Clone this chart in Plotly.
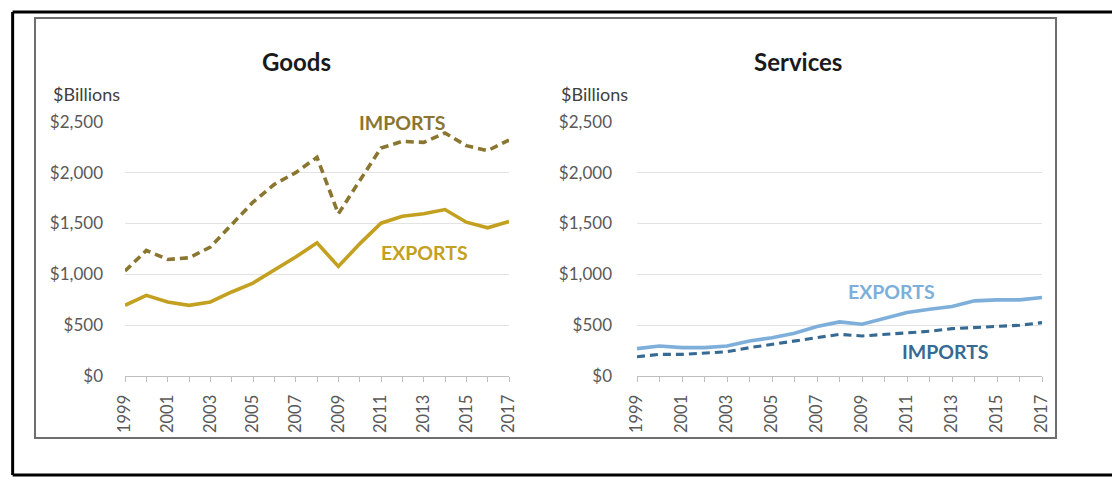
import plotly.graph_objects as go

years = list(range(1999, 2018))
goods_exports = [696, 794, 729, 696, 729, 827, 915, 1039, 1170, 1310, 1078, 1300, 1503, 1572, 1595, 1637, 1513, 1458, 1520]
goods_imports = [1033, 1235, 1147, 1163, 1268, 1490, 1710, 1885, 2000, 2150, 1595, 1921, 2242, 2307, 2297, 2389, 2265, 2216, 2320]
services_exports = [270, 296, 280, 280, 296, 345, 378, 421, 487, 533, 510, 566, 625, 658, 684, 740, 750, 750, 773]
services_imports = [191, 214, 214, 224, 240, 280, 312, 345, 378, 411, 395, 411, 428, 441, 467, 477, 487, 500, 526]

y_tickvals = [0, 500, 1000, 1500, 2000, 2500]
y_ticktext = ["$0", "$500", "$1,000", "$1,500", "$2,000", "$2,500"]
x_tickvals = [1999, 2001, 2003, 2005, 2007, 2009, 2011, 2013, 2015, 2017]

W, H = 1112, 486
FONT = "Lato"
C_GOODS_EXP = "#C4A021"
C_GOODS_IMP = "#8A7630"
C_SERV_EXP = "#7DAFDA"
C_SERV_IMP = "#366A93"

# the photographed page is shown with a small padding; positions are given in
# target-picture pixels and converted to page/paper fractions here
PAD, SX, SY = 10.0, 0.982, 0.959

def fx(X):
    return min(max((X - PAD) / SX / W, 0.0), 1.0)

def fy(Y):
    return min(max(1 - (Y - PAD) / SY / H, 0.0), 1.0)

fig = go.Figure()
fig.add_trace(go.Scatter(x=years, y=goods_imports, mode="lines", xaxis="x", yaxis="y",
                         line=dict(color=C_GOODS_IMP, width=3.6, dash="8px,5px"), showlegend=False))
fig.add_trace(go.Scatter(x=years, y=goods_exports, mode="lines", xaxis="x", yaxis="y",
                         line=dict(color=C_GOODS_EXP, width=3.6), showlegend=False))
fig.add_trace(go.Scatter(x=years, y=services_imports, mode="lines", xaxis="x2", yaxis="y2",
                         line=dict(color=C_SERV_IMP, width=3.1, dash="8px,5px"), showlegend=False))
fig.add_trace(go.Scatter(x=years, y=services_exports, mode="lines", xaxis="x2", yaxis="y2",
                         line=dict(color=C_SERV_EXP, width=3.6), showlegend=False))

def xaxis(domain, anchor):
    return dict(domain=domain, anchor=anchor, range=[1999, 2017], tickmode="array",
                tickvals=x_tickvals, ticktext=[str(v) for v in x_tickvals], tickangle=-90,
                showgrid=False, zeroline=False, showline=True, linecolor="#BFBFBF", linewidth=1,
                ticks="outside", ticklen=5, tickcolor="#BFBFBF", ticklabelstandoff=6,
                minor=dict(dtick=1, ticks="outside", ticklen=5, tickcolor="#BFBFBF", showgrid=False),
                tickfont=dict(family=FONT, size=16.5, color="#595959"))

def yaxis(domain, anchor, standoff):
    return dict(domain=domain, anchor=anchor, range=[0, 2500], tickmode="array",
                tickvals=y_tickvals, ticktext=y_ticktext, showgrid=True, gridcolor="#E3E3E3",
                gridwidth=1, zeroline=False, showline=False, ticks="", ticklabelstandoff=standoff,
                tickfont=dict(family=FONT, size=17, color="#595959"))

ydom = [fy(376), fy(121)]
fig.update_layout(
    width=W, height=H, margin=dict(l=0, r=0, t=0, b=0),
    paper_bgcolor="white", plot_bgcolor="white",
    xaxis=xaxis([fx(124), fx(508)], "y"),
    yaxis=yaxis(ydom, "x", 21),
    xaxis2=xaxis([fx(636), fx(1041)], "y2"),
    yaxis2=yaxis(ydom, "x2", 24),
)

shapes = [
    # outer frame (as close to the picture edges as the page allows)
    dict(type="line", xref="paper", yref="paper", x0=0.0015, x1=1.05, y0=0.998, y1=0.998,
         line=dict(color="black", width=3)),
    dict(type="line", xref="paper", yref="paper", x0=0.0015, x1=0.0015, y0=0.002, y1=0.998,
         line=dict(color="black", width=3)),
    dict(type="line", xref="paper", yref="paper", x0=0.0015, x1=1.05, y0=0.002, y1=0.002,
         line=dict(color="black", width=3)),
    # inner chart border
    dict(type="rect", xref="paper", yref="paper", x0=fx(34), x1=fx(1055), y0=fy(438), y1=fy(17),
         line=dict(color="#6E6E6E", width=2)),
]
fig.update_layout(shapes=shapes)

ann = []
ann.append(dict(text="<b>Goods</b>", xref="paper", yref="paper", x=fx(295), y=fy(61),
                xanchor="center", yanchor="middle", showarrow=False,
                font=dict(family=FONT, size=24, color="#1A1A1A")))
ann.append(dict(text="<b>Services</b>", xref="paper", yref="paper", x=fx(797), y=fy(61),
                xanchor="center", yanchor="middle", showarrow=False,
                font=dict(family=FONT, size=24, color="#1A1A1A")))
for xl in (50, 558):
    ann.append(dict(text="$Billions", xref="paper", yref="paper", x=fx(xl), y=fy(93),
                    xanchor="left", yanchor="middle", showarrow=False,
                    font=dict(family=FONT, size=18, color="#404040")))
ann.append(dict(text="<b>IMPORTS</b>", xref="x", yref="y", x=2012.0, y=2490, showarrow=False,
                xanchor="center", yanchor="middle", font=dict(family=FONT, size=19.5, color=C_GOODS_IMP)))
ann.append(dict(text="<b>EXPORTS</b>", xref="x", yref="y", x=2013.06, y=1216, showarrow=False,
                xanchor="center", yanchor="middle", font=dict(family=FONT, size=19.5, color=C_GOODS_EXP)))
ann.append(dict(text="<b>EXPORTS</b>", xref="x2", yref="y2", x=2010.3, y=830, showarrow=False,
                xanchor="center", yanchor="middle", font=dict(family=FONT, size=19.5, color=C_SERV_EXP)))
ann.append(dict(text="<b>IMPORTS</b>", xref="x2", yref="y2", x=2012.7, y=245, showarrow=False,
                xanchor="center", yanchor="middle", font=dict(family=FONT, size=19.5, color=C_SERV_IMP)))
fig.update_layout(annotations=ann)

post = ("document.documentElement.style.margin='0';document.documentElement.style.padding='0';"
        "document.documentElement.style.overflow='hidden';"
        "document.body.style.margin='0';document.body.style.padding='0';document.body.style.overflow='hidden';"
        "var gd=document.getElementById('{plot_id}');"
        "gd.style.position='fixed';gd.style.left='0px';gd.style.top='0px';")
fig.write_html("out.html", post_script=post, config={"displayModeBar": False})
